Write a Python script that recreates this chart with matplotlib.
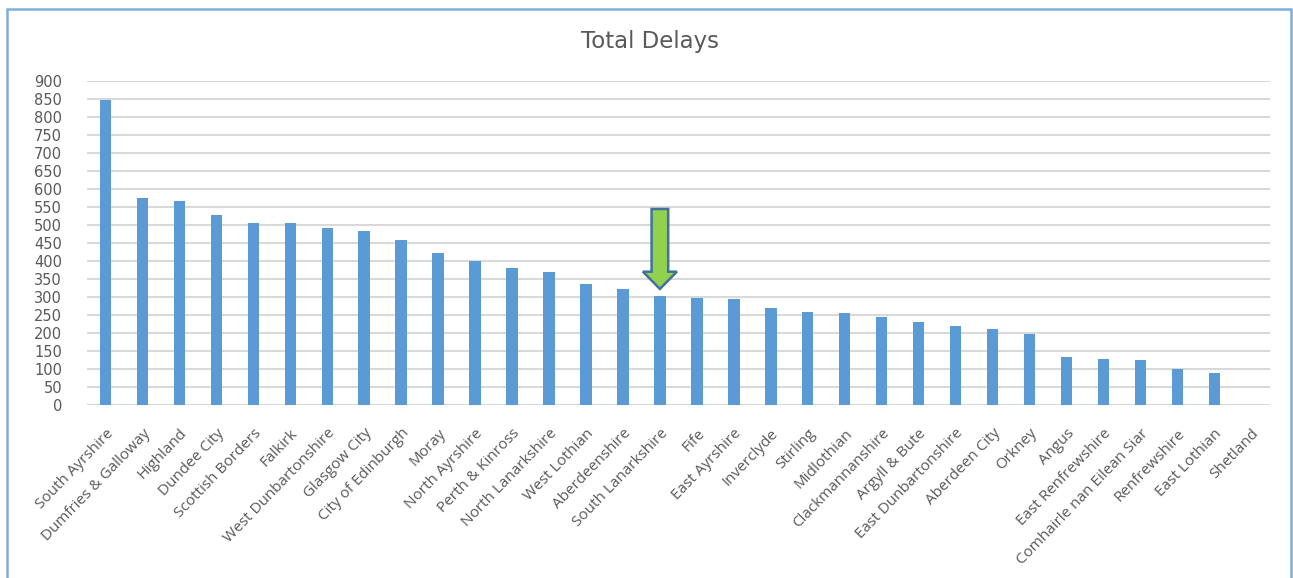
import matplotlib
matplotlib.use("Agg")
import matplotlib.pyplot as plt
from matplotlib.patches import FancyArrow, Rectangle

areas = [
    "South Ayrshire", "Dumfries & Galloway", "Highland", "Dundee City",
    "Scottish Borders", "Falkirk", "West Dunbartonshire", "Glasgow City",
    "City of Edinburgh", "Moray", "North Ayrshire", "Perth & Kinross",
    "North Lanarkshire", "West Lothian", "Aberdeenshire", "South Lanarkshire",
    "Fife", "East Ayrshire", "Inverclyde", "Stirling", "Midlothian",
    "Clackmannanshire", "Argyll & Bute", "East Dunbartonshire", "Aberdeen City",
    "Orkney", "Angus", "East Renfrewshire", "Comhairle nan Eilean Siar",
    "Renfrewshire", "East Lothian", "Shetland",
]
delays = [
    846, 575, 565, 528, 504, 504, 491, 482, 459, 422, 401, 380,
    369, 335, 322, 303, 296, 294, 269, 259, 255, 245, 231, 219,
    210, 197, 133, 127, 124, 101, 90, 0,
]
y_ticks = list(range(0, 901, 50))
highlight = "South Lanarkshire"

text_grey = "#595959"
bar_blue = "#5B9BD5"
grid_grey = "#D9D9D9"

plt.rcParams["font.family"] = ["Open Sans", "DejaVu Sans"]

fig = plt.figure(figsize=(12.93, 5.78), dpi=100)
ax = fig.add_axes([0.0673, 0.2993, 0.9147, 0.5611])

x = list(range(len(areas)))
ax.bar(x, delays, width=0.31, color=bar_blue, zorder=3)

ax.set_xlim(-0.5, len(areas) - 0.5)
ax.set_ylim(0, 900)
ax.set_yticks(y_ticks)
ax.set_yticklabels([str(t) for t in y_ticks], fontsize=10.5, color=text_grey)
for lbl in ax.get_yticklabels():
    lbl.set_fontfamily("DejaVu Sans")
ax.set_xticks(x)
ax.set_xticklabels(areas, rotation=46, ha="right", rotation_mode="anchor",
                   fontsize=11, color=text_grey)
ax.tick_params(axis="both", length=0)
ax.tick_params(axis="y", pad=18)
ax.tick_params(axis="x", pad=15)
ax.grid(axis="y", color=grid_grey, linewidth=1.5, zorder=0)
for s in ax.spines.values():
    s.set_visible(False)

fig.text(650 / 1293, 1 - 48 / 578, "Total Delays", fontsize=16.5,
         color=text_grey, ha="center", va="baseline", family="DejaVu Sans")

# green pointer above the highlighted bar
hi = areas.index(highlight)
tip = delays[hi] + 19
top = tip + 222
ax.add_patch(FancyArrow(hi, top, 0, tip - top, width=0.45, head_width=0.92,
                        head_length=48, length_includes_head=True,
                        facecolor="#92D050", edgecolor="#41719C",
                        linewidth=1.8, zorder=5))

# chart frame
fig.patches.append(Rectangle((7 / 1293, -0.05), 1284 / 1293, 1.05 - 9 / 578,
                             transform=fig.transFigure, fill=False,
                             edgecolor="#7FAEDD", linewidth=1.8))

fig.savefig("out.png", dpi=100, facecolor="white")
